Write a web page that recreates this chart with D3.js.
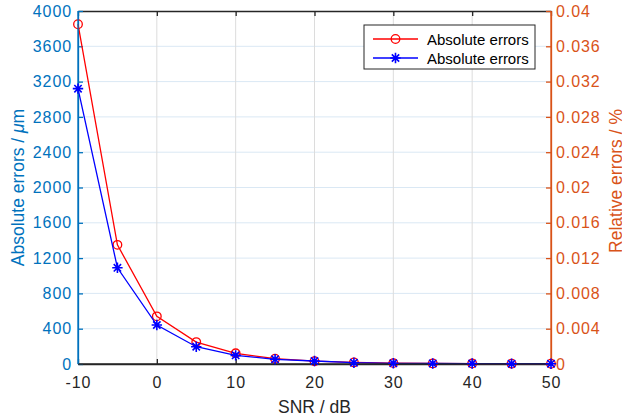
<!DOCTYPE html>
<html>
<head>
<meta charset="utf-8">
<script src="https://cdn.jsdelivr.net/npm/d3@7"></script>
<style>
  body { margin: 0; background: #fff; }
  svg { font-family: "Liberation Sans", Arial, sans-serif; }
</style>
</head>
<body>
<div class="content"></div>
<script>
var width = 622, height = 418;
var margin = { left: 78, right: 71, top: 11, bottom: 54 };

// data
var snr = [-10, -5, 0, 5, 10, 15, 20, 25, 30, 35, 40, 45, 50];
var redErr = [3850, 1350, 540, 248, 121, 60, 32, 18, 10, 7, 5, 4, 3];
var blueErr = [3120, 1090, 442, 196, 98, 53, 34, 15, 8, 6, 5, 4, 3];
var xTicks = [-10, 0, 10, 20, 30, 40, 50];
var leftTicks = d3.range(0, 4001, 400);
var rightTicks = [0, 0.004, 0.008, 0.012, 0.016, 0.02, 0.024, 0.028, 0.032, 0.036, 0.04];
var legendNames = ['Absolute errors', 'Absolute errors'];

var blueAx = '#0072bd', orangeAx = '#d95319', dark = '#262626';

var svg = d3.select('.content').append('svg')
  .attr('width', width)
  .attr('height', height);

var x = d3.scaleLinear().domain([-10, 50]).range([margin.left, width - margin.right]);
var y = d3.scaleLinear().domain([0, 4000]).range([height - margin.bottom, margin.top]);
var y2 = d3.scaleLinear().domain([0, 0.04]).range([height - margin.bottom, margin.top]);

var x0 = x.range()[0], x1 = x.range()[1], yb = y.range()[0], yt = y.range()[1];

// grid
svg.append('g').selectAll('line')
  .data(leftTicks.slice(1, -1))
  .enter().append('line')
  .attr('x1', x0).attr('x2', x1)
  .attr('y1', function (d) { return y(d); })
  .attr('y2', function (d) { return y(d); })
  .attr('stroke', '#dae8f4').attr('stroke-width', 1);

svg.append('g').selectAll('line')
  .data(xTicks.slice(1, -1))
  .enter().append('line')
  .attr('y1', yt).attr('y2', yb)
  .attr('x1', function (d) { return x(d); })
  .attr('x2', function (d) { return x(d); })
  .attr('stroke', '#dcdcdc').attr('stroke-width', 1);

// axes
var fmt = function (d) { return d; };
var tickFont = function (sel, col) {
  sel.attr('fill', col).style('font-size', '16px').style('letter-spacing', '0.9px');
};

var gx = svg.append('g')
  .attr('transform', 'translate(0,' + yb + ')')
  .call(d3.axisBottom(x).tickValues(xTicks).tickSizeInner(-5).tickSizeOuter(0).tickPadding(13).tickFormat(fmt));
var gxt = svg.append('g')
  .attr('transform', 'translate(0,' + yt + ')')
  .call(d3.axisTop(x).tickValues(xTicks).tickSizeInner(-5).tickSizeOuter(0).tickFormat(''));
[gx, gxt].forEach(function (g) {
  g.select('.domain').attr('stroke', dark).attr('stroke-width', 1.3);
  g.selectAll('.tick line').attr('stroke', dark).attr('stroke-width', 1.3);
  g.selectAll('text').call(tickFont, dark);
});

var gl = svg.append('g')
  .attr('transform', 'translate(' + x0 + ',0)')
  .call(d3.axisLeft(y).tickValues(leftTicks).tickSizeInner(-5).tickSizeOuter(0).tickPadding(6).tickFormat(fmt));
gl.selectAll('.domain, .tick line').attr('stroke', blueAx).attr('stroke-width', 1.3);
gl.selectAll('text').call(tickFont, blueAx);

var gr = svg.append('g')
  .attr('transform', 'translate(' + x1 + ',0)')
  .call(d3.axisRight(y2).tickValues(rightTicks).tickSizeInner(-5).tickSizeOuter(0).tickPadding(5)
    .tickFormat(function (d) { return d === 0 ? '0' : String(+d.toFixed(3)); }));
gr.selectAll('.domain, .tick line').attr('stroke', orangeAx).attr('stroke-width', 1.3);
gr.selectAll('text').call(tickFont, orangeAx);

// axis labels
svg.append('text')
  .attr('x', (x0 + x1) / 2).attr('y', 413)
  .attr('text-anchor', 'middle').attr('fill', dark)
  .style('font-size', '17.5px')
  .text('SNR / dB');

var ll = svg.append('text')
  .attr('transform', 'translate(24,' + ((yt + yb) / 2) + ') rotate(-90)')
  .attr('text-anchor', 'middle').attr('fill', blueAx)
  .style('font-size', '17.5px');
ll.append('tspan').text('Absolute errors / ');
ll.append('tspan').style('font-style', 'italic').text('\u03bc');
ll.append('tspan').text('m');

svg.append('text')
  .attr('transform', 'translate(622,181) rotate(-90)')
  .attr('text-anchor', 'middle').attr('fill', orangeAx)
  .style('font-size', '17.5px')
  .text('Relative errors / %');

// series
var line = d3.line()
  .x(function (d) { return x(d[0]); })
  .y(function (d) { return y(d[1]); });

var redPts = d3.zip(snr, redErr), bluePts = d3.zip(snr, blueErr);

svg.append('path').attr('d', line(redPts))
  .attr('fill', 'none').attr('stroke', '#ff0000').attr('stroke-width', 1.3);
svg.append('g').selectAll('circle')
  .data(redPts).enter().append('circle')
  .attr('cx', function (d) { return x(d[0]); })
  .attr('cy', function (d) { return y(d[1]); })
  .attr('r', 4.3)
  .attr('fill', 'none').attr('stroke', '#ff0000').attr('stroke-width', 1.3);

svg.append('path').attr('d', line(bluePts))
  .attr('fill', 'none').attr('stroke', '#0000ff').attr('stroke-width', 1.3);

function star(g, cx, cy, r) {
  var p = '';
  for (var k = 0; k < 4; k++) {
    var a = k * Math.PI / 4;
    var dx = r * Math.cos(a), dy = r * Math.sin(a);
    p += 'M' + (cx - dx) + ',' + (cy - dy) + 'L' + (cx + dx) + ',' + (cy + dy);
  }
  g.append('path').attr('d', p).attr('stroke', '#0000ff').attr('stroke-width', 1.6).attr('fill', 'none');
}
var sg = svg.append('g');
bluePts.forEach(function (d) { star(sg, x(d[0]), y(d[1]), 5.2); });

// redraw frame over data lines
svg.append('line').attr('x1', x0).attr('x2', x1).attr('y1', yb).attr('y2', yb)
  .attr('stroke', dark).attr('stroke-width', 1.3);
svg.append('line').attr('x1', x0).attr('x2', x0).attr('y1', yt).attr('y2', yb)
  .attr('stroke', blueAx).attr('stroke-width', 1.3);
svg.append('line').attr('x1', x1).attr('x2', x1).attr('y1', yt).attr('y2', yb)
  .attr('stroke', orangeAx).attr('stroke-width', 1.3);
sg.raise();

// legend
var lg = svg.append('g').attr('transform', 'translate(364,25)');
lg.append('rect').attr('width', 171).attr('height', 44)
  .attr('fill', '#fff').attr('stroke', dark).attr('stroke-width', 1);
legendNames.forEach(function (name, i) {
  var ly = 14 + i * 19;
  var col = i === 0 ? '#ff0000' : '#0000ff';
  lg.append('line').attr('x1', 9).attr('x2', 54).attr('y1', ly).attr('y2', ly)
    .attr('stroke', col).attr('stroke-width', 1.3);
  if (i === 0) {
    lg.append('circle').attr('cx', 31.5).attr('cy', ly).attr('r', 4.3)
      .attr('fill', 'none').attr('stroke', col).attr('stroke-width', 1.3);
  } else {
    star(lg, 31.5, ly, 5.2);
  }
  lg.append('text').attr('x', 63).attr('y', ly + 5.5)
    .attr('fill', '#000').style('font-size', '15px').text(name);
});
</script>
</body>
</html>
